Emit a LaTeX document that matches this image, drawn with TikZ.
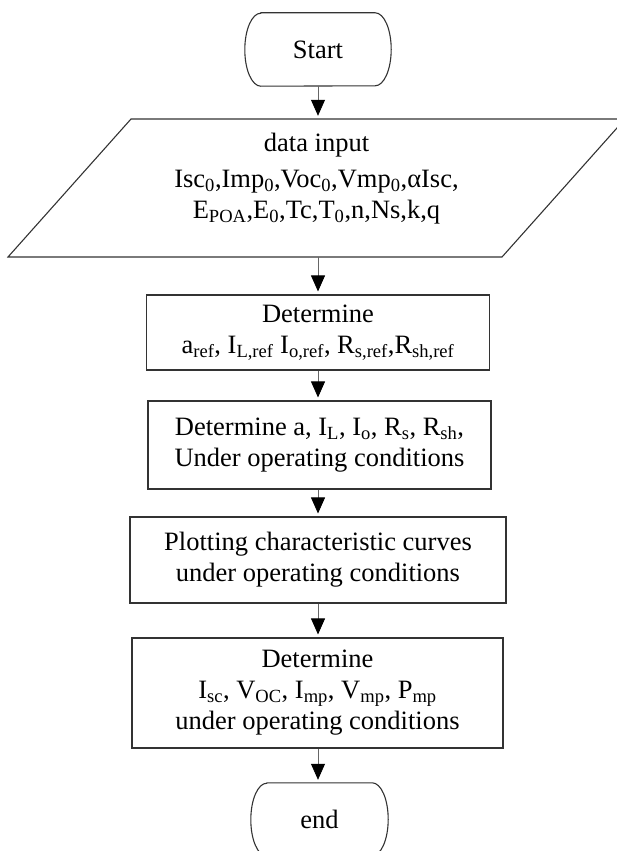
\documentclass[tikz,border=0pt]{standalone}
\usepackage{fontspec}
\setmainfont{Liberation Serif}
\usetikzlibrary{arrows.meta,calc}
\newcommand{\sub}[1]{\textsubscript{#1}}
\begin{document}
\begin{tikzpicture}[x=1pt,y=1pt,
  txt/.style={font=\fontsize{26.5}{31}\selectfont, inner sep=0pt, align=center},
  procbox/.style={txt, draw=black!80, line width=1.1pt},
  terminal/.style={txt, draw=none},
  shapeline/.style={draw=black!80, line width=1.1pt},
  arr/.style={draw=black!60, line width=0.8pt, shorten >=3pt,
    -{Triangle[width=14pt,length=16pt,color=black]}}
]
\useasboundingbox (0,0) rectangle (617,-851);
\clip (0,0) rectangle (617,-851);

% Start
\node[terminal, minimum width=114pt, minimum height=73pt] (start) at (318,-49.5) {Start};
\draw[shapeline] (start.north west) -- (start.north east)
  arc[start angle=90,end angle=-90,x radius=16pt,y radius=36.5pt]
  -- (start.south west)
  arc[start angle=270,end angle=90,x radius=16pt,y radius=36.5pt] -- cycle;

% data input (parallelogram)
\node[inner sep=0pt, minimum width=1pt, minimum height=138pt] (input) at (318,-188) {};
\draw[shapeline] (131,-119) -- (625,-119) -- (502,-257) -- (8,-257) -- cycle;
\node[txt] (inputtext) at (316.5,-179) {data input\\[5pt]
  Isc\sub{0},Imp\sub{0},Voc\sub{0},Vmp\sub{0},αIsc,\\
  E\sub{POA},E\sub{0},Tc,T\sub{0},n,Ns,k,q};

% process boxes
\node[procbox, minimum width=343pt, minimum height=75pt] (det1) at (318,-332.5)
  {Determine\\
   a\sub{ref}, I\sub{L,ref} I\sub{o,ref}, R\sub{s,ref},R\sub{sh,ref}};
\node[procbox, minimum width=343pt, minimum height=88pt] (det2) at (319.5,-445)
  {Determine a, I\sub{L}, I\sub{o}, R\sub{s}, R\sub{sh},\\
   Under operating conditions};
\node[procbox, minimum width=376pt, minimum height=86pt] (plot) at (318,-560)
  {Plotting characteristic curves\\
   under operating conditions};
\node[procbox, minimum width=371pt, minimum height=110pt] (det3) at (317.5,-693)
  {Determine\\
   I\sub{sc}, V\sub{OC}, I\sub{mp}, V\sub{mp}, P\sub{mp}\\
   under operating conditions};

% end
\node[terminal, minimum width=105pt, minimum height=73pt] (end) at (319.5,-819.5) {end};
\draw[shapeline] (end.north west) -- (end.north east)
  arc[start angle=90,end angle=-90,x radius=16pt,y radius=36.5pt]
  -- (end.south west)
  arc[start angle=270,end angle=90,x radius=16pt,y radius=36.5pt] -- cycle;

% connectors
\draw[arr] (start.south) -- (start.south |- input.north);
\draw[arr] (input.south) -- (input.south |- det1.north);
\draw[arr] (det1.south) -- (det1.south |- det2.north);
\draw[arr] (det2.south -| det1.south) -- (det1.south |- plot.north);
\draw[arr] (plot.south) -- (plot.south |- det3.north);
\draw[arr] (det3.south -| plot.south) -- (plot.south |- end.north);
\end{tikzpicture}
\end{document}
